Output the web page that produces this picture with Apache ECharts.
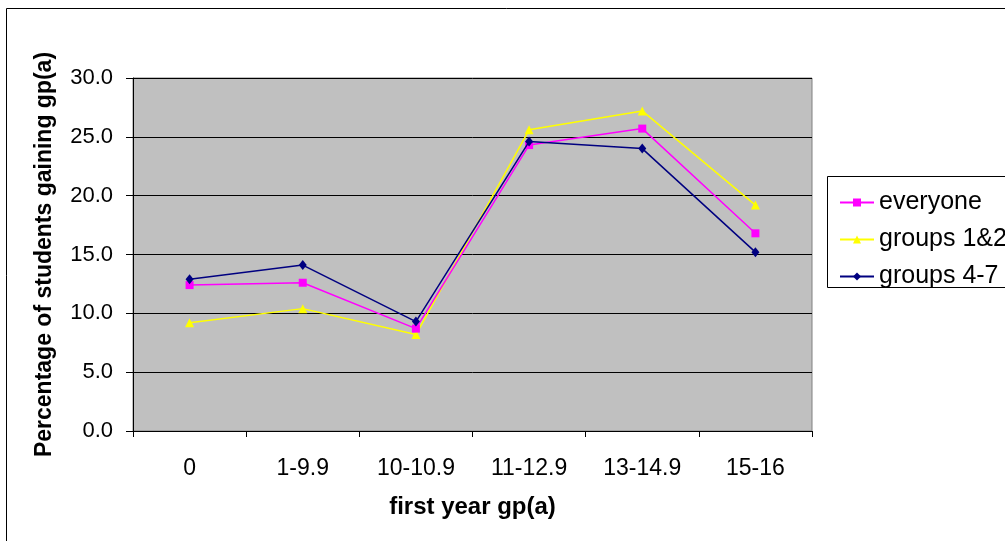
<!DOCTYPE html>
<html>
<head>
<meta charset="utf-8">
<script src="https://cdn.jsdelivr.net/npm/echarts@6/dist/echarts.min.js"></script>
<style>
html,body{margin:0;padding:0;background:#fff;}
#chart{width:1005px;height:541px;}
</style>
</head>
<body>
<div id="chart"></div>
<script>
const categories = ['0', '1-9.9', '10-10.9', '11-12.9', '13-14.9', '15-16'];
const everyone = [12.4, 12.6, 8.7, 24.3, 25.7, 16.8];
const groups12 = [9.2, 10.4, 8.2, 25.6, 27.2, 19.2];
const groups47 = [12.9, 14.1, 9.3, 24.6, 24.0, 15.2];
const yTicks = { min: 0, max: 30, interval: 5 };

const font = 'Liberation Sans, Arial, sans-serif';
const chart = echarts.init(document.getElementById('chart'));
chart.setOption({
  backgroundColor: '#ffffff',
  animation: false,
  graphic: [
    { type: 'rect', shape: { x: 6.5, y: 8.5, width: 1010, height: 540 }, style: { fill: 'none', stroke: '#000', lineWidth: 1 }, z: -1 },
    { type: 'rect', shape: { x: 827.5, y: 176.5, width: 200, height: 111 }, style: { fill: '#fff', stroke: '#000', lineWidth: 1 }, z: 0 }
  ],
  grid: {
    left: 133, right: 193, top: 78, bottom: 110,
    show: true, backgroundColor: '#C0C0C0', borderColor: '#808080', borderWidth: 1
  },
  legend: {
    orient: 'vertical', left: 834, top: 185,
    itemWidth: 34, itemHeight: 10, itemGap: 12,
    textStyle: { fontFamily: font, fontSize: 25, color: '#000', lineHeight: 25 },
    data: ['everyone', 'groups 1&2', 'groups 4-7'],
    z: 5
  },
  xAxis: {
    type: 'category', data: categories, boundaryGap: true,
    name: 'first year gp(a)', nameLocation: 'middle', nameGap: 64,
    nameTextStyle: { fontFamily: font, fontSize: 24, fontWeight: 'bold', color: '#000' },
    axisLine: { lineStyle: { color: '#000', width: 1 } },
    axisTick: { show: true, inside: false, length: 6, alignWithLabel: false, lineStyle: { color: '#000' } },
    axisLabel: { fontFamily: font, fontSize: 23, color: '#000', margin: 26 },
    splitLine: { show: false }
  },
  yAxis: {
    type: 'value', min: yTicks.min, max: yTicks.max, interval: yTicks.interval,
    name: 'Percentage of students gaining gp(a)', nameLocation: 'middle', nameGap: 77,
    nameTextStyle: { fontFamily: font, fontSize: 23, fontWeight: 'bold', color: '#000' },
    axisLine: { show: true, lineStyle: { color: '#000', width: 1 } },
    axisTick: { show: true, length: 7, lineStyle: { color: '#000' } },
    axisLabel: { fontFamily: font, fontSize: 22, color: '#000', margin: 20, formatter: v => v.toFixed(1) },
    splitLine: { show: true, lineStyle: { color: '#000', width: 1 } }
  },
  series: [
    { name: 'everyone', type: 'line', data: everyone, symbol: 'rect', symbolSize: 8,
      itemStyle: { color: '#FF00FF' }, lineStyle: { color: '#FF00FF', width: 1.5 }, z: 3 },
    { name: 'groups 1&2', type: 'line', data: groups12, symbol: 'triangle', symbolSize: 9,
      itemStyle: { color: '#FFFF00' }, lineStyle: { color: '#FFFF00', width: 1.5 }, z: 2 },
    { name: 'groups 4-7', type: 'line', data: groups47, symbol: 'diamond', symbolSize: [8, 10],
      itemStyle: { color: '#000080' }, lineStyle: { color: '#000080', width: 1.5 }, z: 4 }
  ]
});
</script>
</body>
</html>
